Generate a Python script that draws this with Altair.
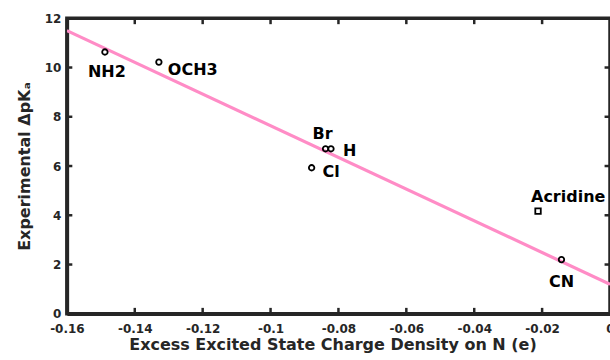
import altair as alt
import pandas as pd

# ---- data ----
names = ["NH2", "OCH3", "Br", "H", "Cl", "Acridine", "CN"]
charge = [-0.1488, -0.1329, -0.0838, -0.0822, -0.0879, -0.0212, -0.0143]
dpka = [10.63, 10.22, 6.70, 6.70, 5.93, 4.17, 2.2]
shapes = ["circle", "circle", "circle", "circle", "circle", "square", "circle"]

fit_x = [-0.16, 0.0]
fit_y = [11.50, 1.20]

x_ticks = [-0.16, -0.14, -0.12, -0.1, -0.08, -0.06, -0.04, -0.02, 0.0]
y_ticks = [0, 2, 4, 6, 8, 10, 12]

# ---- styling / layout ----
FONT = "DejaVu Sans"
AX = "#262626"
PINK = "#FF8CC6"
label_place = {  # name: (dx, dy, align)
    "NH2": (2, 20, "center"),
    "OCH3": (9, 8, "left"),
    "Br": (-3, -15, "center"),
    "H": (12, 2, "left"),
    "Cl": (11, 4, "left"),
    "Acridine": (-7, -14, "left"),
    "CN": (0, 22, "center"),
}

pts = pd.DataFrame({"name": names, "x": charge, "y": dpka, "shape": shapes})
fit = pd.DataFrame({"x": fit_x, "y": fit_y})

xs = alt.Scale(domain=[-0.16, 0.0], nice=False, zero=False)
ys = alt.Scale(domain=[0, 12], nice=False, zero=False)

xax = alt.Axis(values=x_ticks, format=".2~f", ticks=False, grid=False,
               labelExpr="replace(datum.label, '\u2212', '-')",
               domainColor=AX, domainWidth=3.5, labelFont=FONT, labelFontSize=12,
               labelFontWeight="bold", labelColor=AX, labelPadding=10,
               title="Excess Excited State Charge Density on N (e)",
               titleFont=FONT, titleFontSize=16, titleFontWeight="bold",
               titleColor=AX, titlePadding=2, titleX=266, titleAlign="center",
               labelFlush=False, labelOverlap=False)
yax = alt.Axis(values=y_ticks, ticks=False, grid=False,
               domainColor=AX, domainWidth=3.5, labelFont=FONT, labelFontSize=12,
               labelFontWeight="bold", labelColor=AX, labelPadding=6,
               title="Experimental ΔpKₐ",
               titleFont=FONT, titleFontSize=16, titleFontWeight="bold",
               titleColor=AX, titlePadding=12, labelFlush=False, labelOverlap=False)

line = alt.Chart(fit).mark_line(color=PINK, strokeWidth=3.2, clip=True).encode(
    x=alt.X("x:Q", scale=xs, axis=xax),
    y=alt.Y("y:Q", scale=ys, axis=yax),
)

# inward tick marks (MATLAB style)
tlx = 0.0016
tly = 0.24
tick_rows = []
for t in x_ticks[1:-1]:
    tick_rows.append({"x": t, "x2": t, "y": 0, "y2": tly})
    tick_rows.append({"x": t, "x2": t, "y": 12, "y2": 12 - tly})
for t in y_ticks[1:-1]:
    tick_rows.append({"x": -0.16, "x2": -0.16 + tlx, "y": t, "y2": t})
    tick_rows.append({"x": 0.0, "x2": -tlx, "y": t, "y2": t})
ticks = alt.Chart(pd.DataFrame(tick_rows)).mark_rule(color=AX, strokeWidth=2.5).encode(
    x=alt.X("x:Q", scale=xs), x2="x2:Q",
    y=alt.Y("y:Q", scale=ys), y2="y2:Q",
)

points = alt.Chart(pts).mark_point(filled=False, color="black", strokeWidth=1.8, size=30, opacity=1).encode(
    x=alt.X("x:Q", scale=xs),
    y=alt.Y("y:Q", scale=ys),
    shape=alt.Shape("shape:N", scale=alt.Scale(domain=["circle", "square"], range=["circle", "square"]), legend=None),
)

labels = []
for n in names:
    dx, dy, al = label_place[n]
    labels.append(
        alt.Chart(pts).transform_filter(alt.datum.name == n).mark_text(
            font=FONT, fontSize=16, fontWeight="bold", color="black",
            align=al, baseline="middle", dx=dx, dy=dy,
        ).encode(x=alt.X("x:Q", scale=xs), y=alt.Y("y:Q", scale=ys), text="name:N")
    )

chart = alt.layer(line, ticks, points, *labels).properties(
    width=544, height=296,
    autosize=alt.AutoSizeParams(type="none"),
    padding={"left": 67, "top": 18, "right": 0, "bottom": 46},
    background="white",
).configure_view(stroke=AX, strokeWidth=3.5)

chart.save("out.html", embed_options={"renderer": "svg", "actions": False})
